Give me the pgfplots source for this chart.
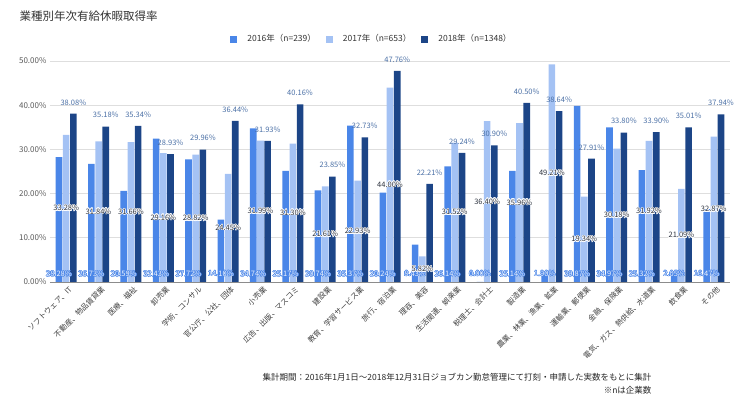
\documentclass[border=0pt]{standalone}
\usepackage{pgfplots}
\pgfplotsset{compat=1.18}
\usepackage{pgfplotstable}
\usepackage{fontspec}
\setmainfont{Noto Sans CJK JP}
\usepackage[copies]{contour}
\contourlength{0.5pt}
\contournumber{16}

\definecolor{c16}{HTML}{4A86E8}
\definecolor{c17}{HTML}{A4C2F4}
\definecolor{c18}{HTML}{1C4587}
\definecolor{lab16}{HTML}{EEF3FD}
\definecolor{lab17}{HTML}{2E3440}
\definecolor{lab18}{HTML}{4A6FA5}

\pgfplotstableread{
x a b c
0 28.28 33.28 38.08
1 26.73 31.84 35.18
2 20.59 31.66 35.34
3 32.43 29.16 28.93
4 27.72 28.82 29.96
5 14.10 24.45 36.44
6 34.74 31.99 31.93
7 25.17 31.30 40.16
8 20.74 21.61 23.85
9 35.37 22.93 32.73
10 20.24 44.00 47.76
11 8.43 5.82 22.21
12 26.14 31.52 29.24
13 0.00 36.40 30.90
14 25.14 35.96 40.50
15 1.90 49.21 38.64
16 39.87 19.34 27.91
17 34.97 30.18 33.80
18 25.32 31.92 33.90
19 2.05 21.09 35.01
20 16.47 32.87 37.94
}\data

\begin{document}
\begin{tikzpicture}[x=1pt,y=1pt]
\useasboundingbox (0,0) rectangle (740,399);
\node[anchor=west, font=\fontsize{11.5}{13}\selectfont, text=black!80] at (16,383) {業種別年次有給休暇取得率};
\begin{axis}[
  at={(50pt,117pt)}, anchor=south west,
  scale only axis, width=680pt, height=221pt,
  ybar, bar width=6.6pt,
  xmin=-0.5, xmax=20.5, ymin=0, ymax=50,
  xtick=data,
  xticklabels={ソフトウェア、IT, 不動産、物品賃貸業, 医療、福祉, 卸売業, 学術、コンサル, 官公庁、公社、団体, 小売業, 広告、出版、マスコミ, 建設業, 教育、学習サービス業, 旅行、宿泊業, 理容、美容, 生活関連、娯楽業, 税理士、会計士, 製造業, 農業、林業、漁業、鉱業, 運輸業、郵便業, 金融、保険業, 電気、ガス、熱供給、水道業, 飲食業, その他},
  xticklabel style={rotate=45, anchor=north east, font=\fontsize{7.5}{8}\selectfont, text=black!75, inner sep=1pt, yshift=-3pt},
  ytick={0,10,20,30,40,50},
  yticklabel={\pgfmathprintnumber[fixed,fixed zerofill,precision=2]{\tick}\%},
  yticklabel style={font=\fontsize{8}{9}\selectfont, text=black!65},
  /pgf/number format/assume math mode=true,
  major tick length=0pt,
  ymajorgrids, grid style={draw=black!13, line width=0.8pt},
  axis x line*=bottom, axis y line*=left,
  y axis line style={draw=none},
  x axis line style={draw=black!45, line width=0.8pt},
  legend style={at={(0.4735,1)}, anchor=center, yshift=22pt, draw=none, fill=none,
    font=\fontsize{8.5}{10}\selectfont, text=black!80, column sep=8pt},
  legend columns=3,
  legend image code/.code={\fill[#1] (0pt,-3.5pt) rectangle (7pt,3.5pt);},
  visualization depends on={rawy \as \rawy},
]
\addplot[fill=c16, draw=none, bar shift=-7.2pt,
  nodes near coords={\contour{c16}{\textcolor{lab16}{\pgfmathprintnumber[fixed,fixed zerofill,precision=2]{\pgfplotspointmeta}\%}}},
  every node near coord/.append style={anchor=center, yshift={-\rawy*4.42pt+8pt}, font=\fontsize{7.5}{8}\selectfont}]
  table[x=x, y=a] {\data};
\addplot[fill=c17, draw=none, bar shift=0pt,
  nodes near coords={\contour{white}{\textcolor{lab17}{\pgfmathprintnumber[fixed,fixed zerofill,precision=2]{\pgfplotspointmeta}\%}}},
  every node near coord/.append style={anchor=center, yshift={-\rawy*2.21pt}, font=\fontsize{7.5}{8}\selectfont}]
  table[x=x, y=b] {\data};
\addplot[fill=c18, draw=none, bar shift=7.2pt,
  nodes near coords={\pgfmathprintnumber[fixed,fixed zerofill,precision=2]{\pgfplotspointmeta}\%},
  every node near coord/.append style={anchor=south, yshift=5pt, text=lab18, font=\fontsize{7.5}{8}\selectfont}]
  table[x=x, y=c] {\data};
\legend{2016年（n=239）, 2017年（n=653）, 2018年（n=1348）}
\end{axis}
\node[anchor=east, font=\fontsize{8.5}{10}\selectfont, text=black!85] at (655,22) {集計期間：2016年1月1日～2018年12月31日ジョブカン勤怠管理にて打刻・申請した実数をもとに集計};
\node[anchor=east, font=\fontsize{8.5}{10}\selectfont, text=black!85] at (655,9) {※nは企業数};
\end{tikzpicture}
\end{document}
